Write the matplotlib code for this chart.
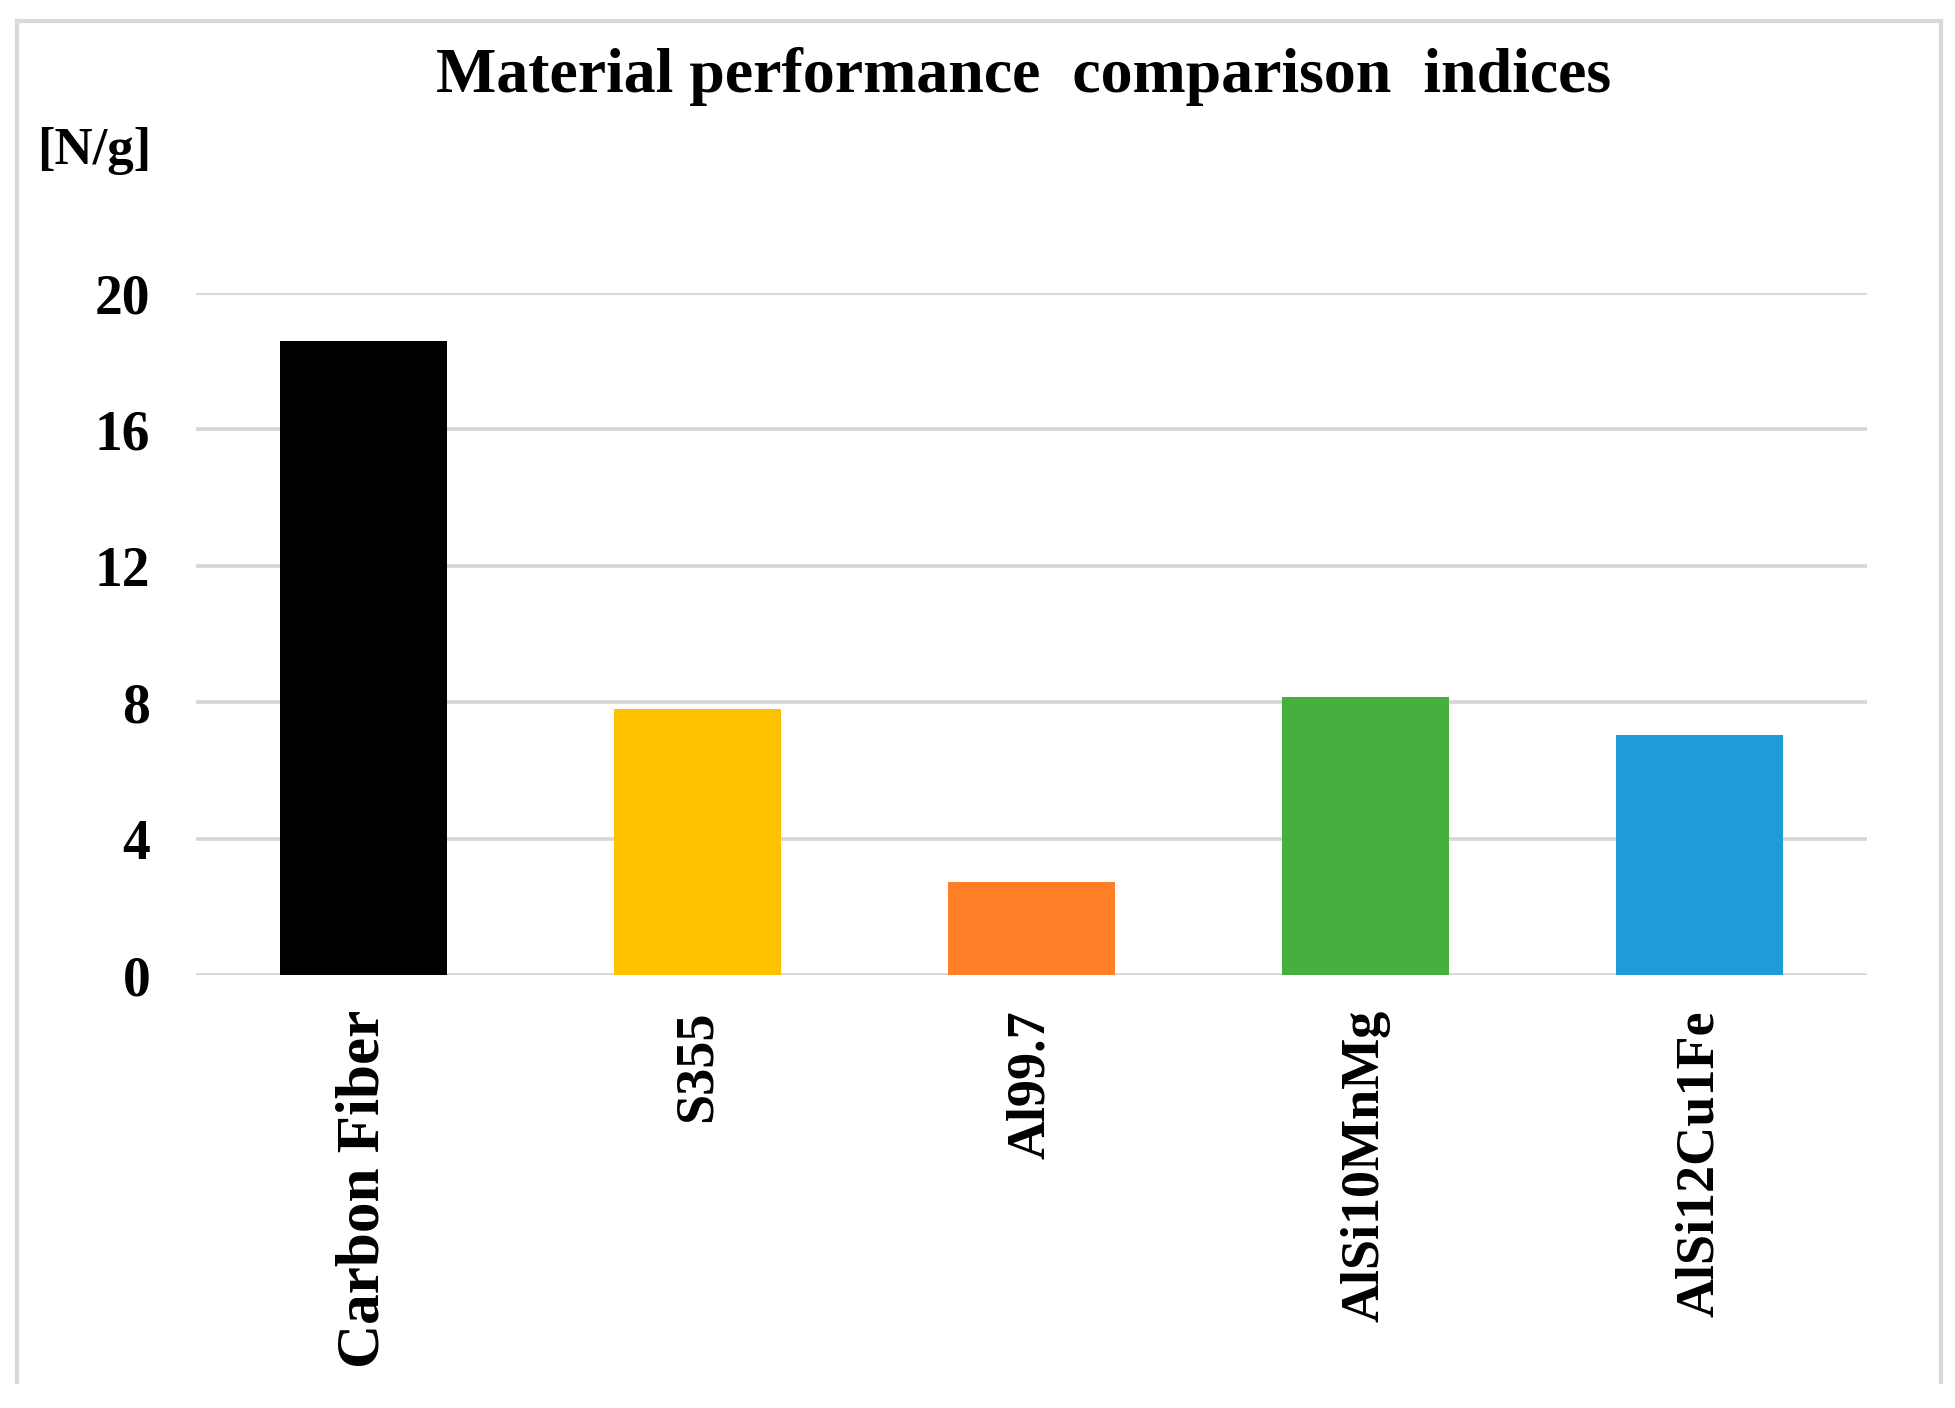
"""
Material performance comparison indices - bar chart.

Output:
    out.png
"""
import matplotlib
matplotlib.use('Agg')
import matplotlib.pyplot as plt
from matplotlib.lines import Line2D

materials = ["Carbon Fiber", "S355", "Al99.7", "AlSi10MnMg", "AlSi12Cu1Fe"]
index_values = [18.6, 7.8, 2.75, 8.15, 7.05]
bar_colors = ['#000000', '#FFC000', '#FF7F27', '#47AF3D', '#1F9BD7']
y_ticks = [0, 4, 8, 12, 16, 20]

plt.rcParams['font.family'] = ['Liberation Serif', 'DejaVu Serif']
plt.rcParams['font.weight'] = 'bold'

fig = plt.figure(figsize=(19.56, 14.08), dpi=100)
ax = fig.add_axes([0.1002, 0.3072, 0.8543, 0.4847])

x = list(range(len(materials)))
ax.bar(x, index_values, width=0.5, color=bar_colors, zorder=3)

ax.set_xlim(-0.5, len(materials) - 0.5)
ax.set_ylim(0, 20)
ax.set_yticks(y_ticks)
ax.set_yticklabels([str(t) for t in y_ticks], fontsize=40, fontweight='bold')
ax.set_xticks(x)
ax.set_xticklabels(materials, rotation=90, fontsize=39, fontweight='bold', va='top')
ax.get_xticklabels()[0].set_fontsize(44)
ax.tick_params(axis='y', length=0, pad=33)
ax.tick_params(axis='x', length=0, pad=25)

# light gray gridlines, including the baseline
ax.grid(axis='y', color='#d6d6d6', linewidth=2.6, zorder=0)
for spine in ax.spines.values():
    spine.set_visible(False)

fig.text(0.5235, 0.946, "Material performance  comparison  indices",
         ha='center', va='center', fontsize=46, fontweight='bold')
fig.text(0.019, 0.893, "[N/g]", ha='left', va='center', fontsize=38, fontweight='bold')

# outer frame (left, top, right)
fx0, fx1 = 17 / 1956, 1941 / 1956
fy0, fy1 = 1 - 1382 / 1408, 1 - 21 / 1408
for xs, ys in [([fx0, fx0], [fy0, fy1]), ([fx0, fx1], [fy1, fy1]), ([fx1, fx1], [fy1, fy0])]:
    fig.add_artist(Line2D(xs, ys, color='#d9d9d9', linewidth=3, transform=fig.transFigure))

fig.savefig('out.png', dpi=100)
plt.close(fig)
